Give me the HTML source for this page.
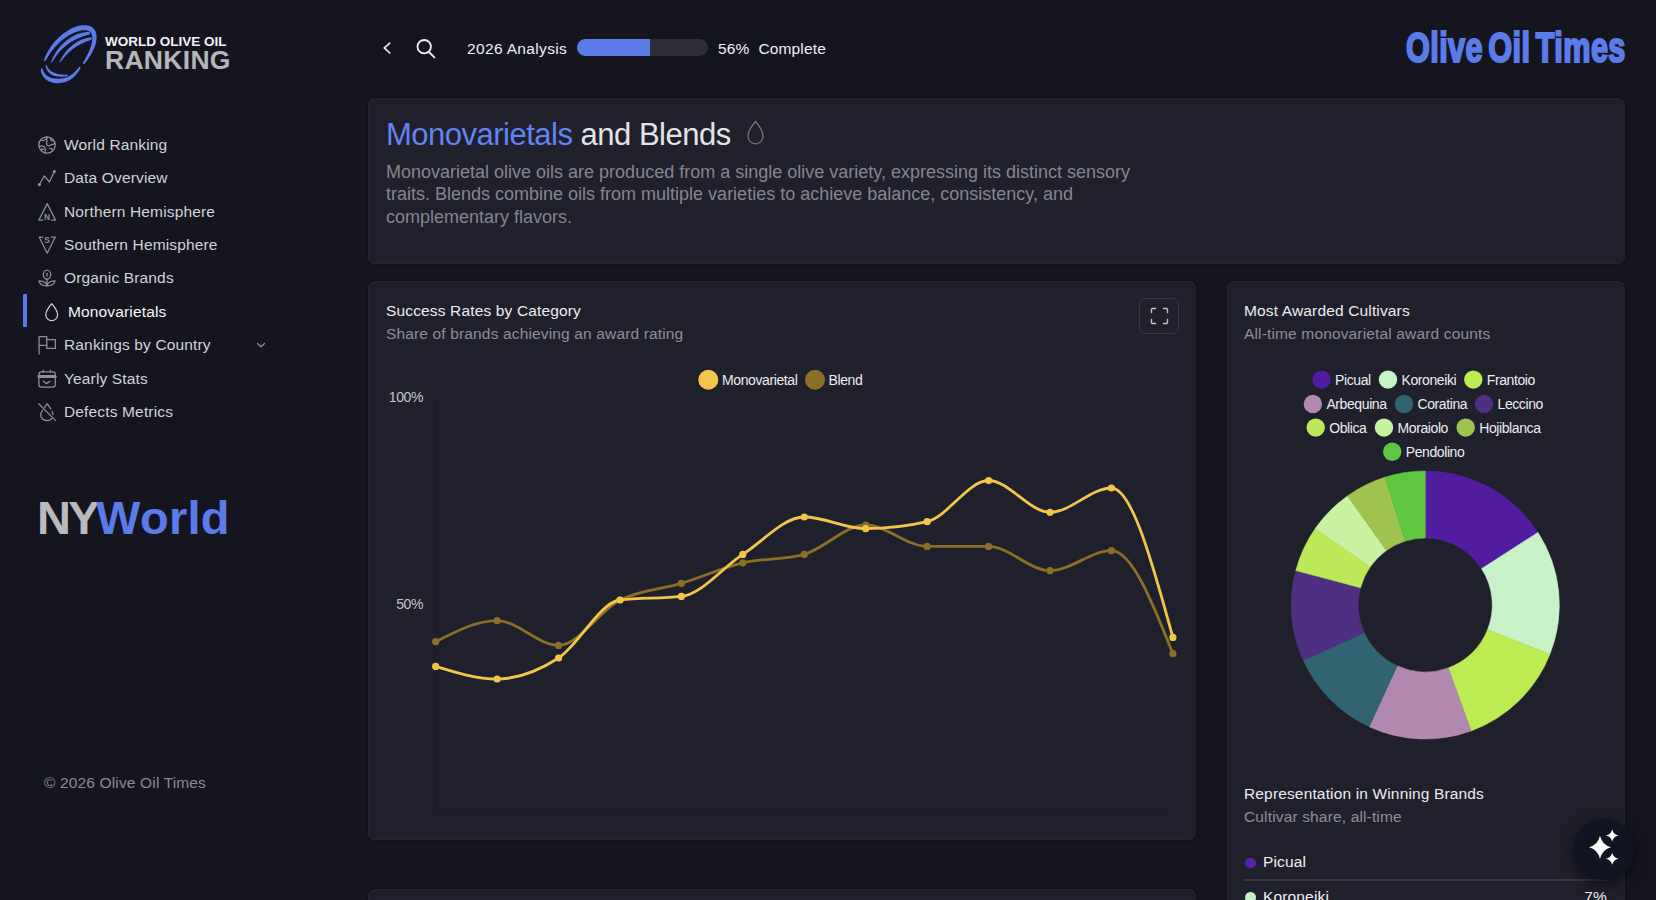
<!DOCTYPE html>
<html><head><meta charset="utf-8">
<style>
*{box-sizing:border-box;margin:0;padding:0}
html,body{width:1656px;height:900px;overflow:hidden;background:#151520;font-family:"Liberation Sans",sans-serif;color:#e6e6ea}
.abs{position:absolute}
.nav{position:absolute;left:0;width:300px;height:20px;font-size:15.5px;color:#d2d2d8;letter-spacing:0.15px}
.nav svg{position:absolute;left:38px;top:0;width:18px;height:18px;overflow:visible}
.nav svg *{fill:none;stroke:#90909a;stroke-width:1.25;stroke-linecap:round;stroke-linejoin:round}
.nav .tx{position:absolute;left:64px;top:0;line-height:18px;white-space:nowrap}
.card{position:absolute;background:#20202c;border-radius:6px;border:1px solid #252531;box-shadow:0 0 0 1px rgba(0,0,0,0.22)}
.t15{font-size:15.5px;line-height:18px;letter-spacing:0.15px;white-space:nowrap;margin-top:1px}
.muted{color:#8f8f99}
</style></head><body>
<!-- SIDEBAR -->
<svg class="abs" style="left:35px;top:20px" width="70" height="70" viewBox="0 0 900 900"><g fill="#5b7be8"><path d="M128.3,530.7 L141.5,512.6 L152.7,493.6 L164.1,474.7 L175.9,455.9 L188.3,437.2 L201.2,418.7 L214.5,400.5 L228.4,382.5 L242.8,364.9 L257.7,347.7 L273.0,330.8 L288.7,314.4 L304.8,298.5 L321.4,283.1 L338.3,268.2 L355.5,253.9 L373.0,240.3 L390.8,227.3 L408.8,214.9 L427.0,203.4 L445.5,192.5 L464.1,182.5 L482.8,173.3 L501.6,165.0 L520.5,157.5 L539.4,150.9 L558.3,145.3 L577.1,140.7 L595.8,136.4 L614.6,132.9 L621.7,132.1 L629.7,131.5 L637.4,131.1 L644.7,131.1 L651.7,131.3 L658.4,131.9 L664.7,132.7 L670.7,133.7 L676.4,135.0 L681.7,136.5 L686.7,138.3 L691.4,140.3 L695.8,142.4 L699.9,144.8 L703.7,147.5 L707.3,150.3 L710.8,153.4 L714.0,156.8 L717.0,160.5 L719.9,164.5 L722.5,168.9 L725.0,173.6 L727.3,178.8 L729.4,184.4 L731.3,190.5 L732.9,197.1 L734.2,204.1 L735.3,211.6 L736.1,219.5 L736.5,228.0 L736.6,237.7 L736.4,247.4 L735.7,257.3 L734.7,267.3 L733.4,277.3 L731.7,287.5 L729.7,297.8 L727.3,308.2 L724.6,318.7 L721.6,329.3 L718.3,340.0 L714.7,350.7 L710.9,361.6 L706.7,372.6 L702.3,383.6 L697.6,394.7 L692.7,405.9 L687.5,417.2 L682.1,428.6 L676.6,440.1 L670.8,451.6 L664.9,463.2 L658.8,474.9 L652.6,486.7 L646.2,498.5 L639.8,510.5 L633.4,522.6 L626.9,534.8 L620.7,547.4 L616.3,561.2 L627.7,568.8 L638.8,559.3 L647.9,548.5 L656.5,537.5 L664.9,526.3 L673.0,515.2 L680.9,503.9 L688.6,492.7 L696.1,481.4 L703.3,470.1 L710.4,458.8 L717.2,447.4 L723.9,436.1 L730.2,424.7 L736.4,413.3 L742.2,401.9 L747.8,390.5 L753.2,379.0 L758.2,367.6 L763.0,356.1 L767.4,344.6 L771.5,333.1 L775.3,321.5 L778.7,309.9 L781.7,298.3 L784.4,286.7 L786.7,275.0 L788.5,263.3 L790.0,251.5 L791.0,239.8 L791.5,228.0 L791.5,217.2 L791.1,206.8 L790.3,196.6 L788.9,186.7 L787.1,177.1 L784.8,167.7 L782.0,158.7 L778.7,150.0 L774.8,141.6 L770.5,133.6 L765.7,125.9 L760.3,118.7 L754.5,111.8 L748.2,105.4 L741.5,99.5 L734.4,94.1 L726.9,89.2 L719.1,84.8 L711.0,80.8 L702.6,77.4 L694.0,74.4 L685.1,71.9 L675.9,69.9 L666.6,68.3 L657.1,67.1 L647.4,66.3 L637.4,65.9 L627.3,65.9 L617.0,66.2 L605.4,67.1 L583.2,70.3 L561.1,74.9 L539.3,81.3 L517.7,88.7 L496.4,97.2 L475.4,106.6 L454.7,117.0 L434.3,128.2 L414.3,140.3 L394.6,153.2 L375.3,166.9 L356.4,181.3 L337.9,196.4 L319.8,212.2 L302.2,228.6 L285.1,245.5 L268.5,263.0 L252.5,281.0 L237.0,299.5 L222.0,318.4 L207.7,337.7 L194.0,357.4 L181.0,377.4 L168.7,397.7 L157.2,418.3 L146.4,439.2 L136.5,460.2 L127.6,481.4 L119.9,502.9 L115.7,525.3Z"/><path d="M215.7,546.7 L228.1,529.3 L239.5,511.6 L250.9,494.1 L262.7,477.0 L274.7,460.1 L287.2,443.6 L300.0,427.5 L313.2,411.8 L326.8,396.5 L340.8,381.6 L355.2,367.2 L370.1,353.2 L385.3,339.7 L401.0,326.7 L417.1,314.2 L433.6,302.2 L450.5,290.7 L467.8,279.8 L485.6,269.5 L503.7,259.7 L522.3,250.6 L541.3,242.0 L560.7,233.9 L580.1,225.2 L599.9,217.0 L620.4,209.6 L641.3,202.7 L662.8,196.4 L684.8,190.6 L707.5,184.0 L702.5,152.0 L678.3,152.6 L654.2,155.5 L630.6,159.6 L607.4,164.5 L584.7,170.2 L562.3,176.8 L540.3,184.1 L519.3,193.4 L498.9,203.6 L479.1,214.4 L459.8,225.9 L441.0,238.0 L422.8,250.8 L405.2,264.1 L388.2,278.1 L371.7,292.5 L355.8,307.6 L340.5,323.1 L325.8,339.1 L311.7,355.6 L298.2,372.5 L285.3,389.9 L273.1,407.7 L261.5,425.9 L250.5,444.5 L240.2,463.4 L230.6,482.7 L221.8,502.3 L214.0,522.4 L208.3,543.3Z"/><path d="M321.1,546.8 L332.4,533.9 L342.6,520.6 L352.8,507.3 L363.3,494.2 L373.9,481.2 L384.9,468.5 L396.0,456.0 L407.5,443.8 L419.3,431.8 L431.3,420.1 L443.6,408.7 L456.2,397.5 L469.1,386.7 L482.3,376.2 L495.8,366.0 L509.6,356.2 L523.7,346.8 L538.1,337.7 L552.7,329.0 L567.7,320.6 L582.9,312.7 L598.5,305.2 L614.2,298.0 L629.8,290.0 L645.7,282.5 L662.1,275.3 L678.8,268.6 L695.8,262.2 L713.2,256.1 L730.9,248.9 L725.1,223.1 L705.5,224.3 L686.3,227.6 L667.3,231.7 L648.7,236.5 L630.3,242.0 L612.3,248.0 L594.5,254.5 L577.6,262.7 L561.1,271.6 L545.0,280.9 L529.4,290.7 L514.1,300.9 L499.2,311.5 L484.7,322.5 L470.7,334.0 L457.0,345.8 L443.8,357.9 L431.0,370.4 L418.6,383.2 L406.6,396.4 L395.1,409.8 L384.1,423.5 L373.4,437.5 L363.3,451.8 L353.6,466.3 L344.5,481.1 L335.8,496.1 L327.8,511.3 L320.4,526.9 L314.9,543.2Z"/><path d="M80.0,622.5 L76.0,635.2 L75.8,647.8 L77.1,660.3 L79.5,672.5 L82.9,684.4 L87.3,696.0 L92.6,707.2 L98.8,718.0 L105.8,728.4 L113.7,738.3 L122.3,747.6 L131.6,756.4 L141.6,764.7 L152.2,772.4 L163.5,779.5 L175.4,786.0 L187.8,791.9 L200.8,797.1 L214.2,801.7 L228.2,805.6 L242.6,808.9 L257.4,811.5 L272.7,812.3 L288.2,812.4 L304.1,811.8 L320.1,810.4 L336.4,808.2 L352.9,805.3 L369.5,801.7 L386.3,797.2 L396.4,794.0 L405.8,790.6 L415.0,786.9 L424.0,782.9 L432.8,778.6 L441.3,774.1 L449.6,769.3 L457.7,764.3 L465.6,759.1 L473.3,753.6 L480.8,747.9 L488.1,742.0 L495.2,735.8 L502.1,729.5 L508.8,723.0 L515.3,716.4 L521.7,709.5 L527.9,702.5 L533.9,695.4 L539.8,688.0 L545.5,680.6 L551.0,672.9 L556.4,665.2 L561.7,657.3 L566.7,649.2 L571.7,641.1 L576.4,632.7 L580.8,624.2 L584.9,615.4 L587.0,605.3 L577.0,598.7 L568.7,604.6 L562.2,611.4 L555.9,618.4 L549.8,625.3 L543.7,632.2 L537.7,638.9 L531.6,645.5 L525.5,652.0 L519.4,658.4 L513.3,664.6 L507.1,670.6 L500.8,676.5 L494.5,682.1 L488.1,687.6 L481.7,693.0 L475.2,698.1 L468.6,703.0 L461.9,707.7 L455.2,712.2 L448.3,716.5 L441.4,720.6 L434.3,724.4 L427.1,728.1 L419.9,731.5 L412.4,734.6 L404.9,737.6 L397.2,740.3 L389.4,742.7 L381.4,744.9 L373.7,746.8 L358.7,749.6 L344.0,751.8 L329.7,753.3 L315.7,754.2 L302.1,754.4 L288.9,754.1 L276.1,753.2 L263.7,751.9 L251.6,750.9 L239.8,749.5 L228.4,747.5 L217.5,745.0 L206.9,741.9 L196.7,738.4 L187.0,734.5 L177.7,730.1 L168.8,725.2 L160.4,719.9 L152.5,714.1 L145.0,708.0 L138.0,701.4 L131.4,694.4 L125.3,686.9 L119.7,679.0 L114.6,670.7 L109.9,661.9 L105.7,652.6 L101.8,642.8 L98.1,632.5 L92.0,621.5Z"/><path d="M138.3,575.7 L137.2,586.8 L138.2,597.6 L140.3,608.1 L143.1,618.3 L146.7,628.2 L151.1,637.8 L156.2,647.1 L161.9,655.9 L168.3,664.4 L175.4,672.5 L183.1,680.2 L191.3,687.4 L200.2,694.2 L209.6,700.5 L219.5,706.4 L230.2,711.4 L241.5,715.3 L253.2,718.8 L265.2,721.7 L277.7,724.1 L290.5,726.1 L303.7,727.5 L317.2,728.5 L331.0,728.9 L345.2,728.8 L359.8,728.2 L374.6,727.1 L389.8,725.3 L405.2,722.9 L420.7,718.6 L419.3,705.4 L403.6,704.3 L388.5,704.1 L373.9,703.7 L359.8,703.0 L346.1,702.0 L332.9,700.6 L320.1,698.9 L307.9,696.8 L296.1,694.3 L284.8,691.5 L274.1,688.3 L263.8,684.8 L254.1,681.0 L244.9,676.8 L236.0,672.9 L227.3,669.0 L219.0,664.7 L211.2,660.1 L203.8,655.2 L196.8,649.9 L190.2,644.2 L183.9,638.1 L178.1,631.6 L172.7,624.8 L167.6,617.5 L162.9,609.8 L158.6,601.6 L154.5,593.0 L150.6,583.9 L145.7,574.3Z"/></g></svg>
<div class="abs" style="left:105px;top:34.5px;font-size:13.5px;font-weight:700;color:#f2f2f4;line-height:13.5px;white-space:nowrap">WORLD OLIVE OIL</div>
<div class="abs" style="left:105px;top:46.5px;font-size:26.5px;font-weight:700;color:#b6b6ba;letter-spacing:0.3px;line-height:26px;white-space:nowrap">RANKING</div>

<div class="nav" style="top:135.6px"><svg viewBox="0 0 18 18"><circle cx="9" cy="9" r="8.2"/><path d="M3.2 4.3 C4.8 5 6 4.6 7 3.6 C7.6 3 8.6 2.6 8.8 1"/><path d="M9 1.2 C8.3 3.5 9.3 5 8.7 7 C8.3 8.5 9 10 11 9.8 C12.5 9.6 13 8.2 14.8 8.4 C16 8.5 16.6 7.5 16.9 6.8"/><path d="M12.5 2 C12 3.5 13.2 4.8 15 4.8"/><path d="M1.4 10.6 C3.3 9.6 5.8 10.2 7 11.8 C8 13.2 6.8 14.6 7.2 16.9"/><path d="M3.6 12.4 C4.2 13.8 5 14.2 5.8 13"/><path d="M11.5 12.5 C12.5 12 14 12.5 14.5 14.2"/></svg><span class="tx">World Ranking</span></div>
<div class="nav" style="top:169.1px"><svg viewBox="0 0 18 18"><path d="M1.4 15.5 L6.4 6.9 L11.4 13 L16.3 2.5"/><circle cx="1.4" cy="15.5" r="1"/><circle cx="16.3" cy="2.5" r="1"/></svg><span class="tx">Data Overview</span></div>
<div class="nav" style="top:202.5px"><svg viewBox="0 0 18 18"><path d="M4.8 17 H0.9 L9.2 0.6 L17.5 17 H13.5"/><text x="9.2" y="17.4" text-anchor="middle" font-size="8.4" font-weight="700" font-family="Liberation Sans, sans-serif" style="fill:#90909a;stroke:none">N</text></svg><span class="tx">Northern Hemisphere</span></div>
<div class="nav" style="top:235.9px"><svg viewBox="0 0 18 18"><path d="M4.8 1 H1.2 L9.2 17.2 L17.3 1 H13.5"/><text x="9.2" y="7" text-anchor="middle" font-size="8.4" font-weight="700" font-family="Liberation Sans, sans-serif" style="fill:#90909a;stroke:none">S</text></svg><span class="tx">Southern Hemisphere</span></div>
<div class="nav" style="top:269.4px"><svg viewBox="0 0 18 18"><ellipse cx="9" cy="5.6" rx="3.7" ry="4.6"/><path d="M9 4.3 V7.2"/><path d="M9 10.2 V16.8"/><path d="M9 16.8 C5 16.8 1.3 15.3 1 11.8 C4.5 11.8 7.5 13.5 9 15.5"/><path d="M9 16.8 C13 16.8 16.7 15.3 17 11.8 C13.5 11.8 10.5 13.5 9 15.5"/></svg><span class="tx">Organic Brands</span></div>
<div class="abs" style="left:23px;top:294px;width:4px;height:33px;background:#5b7be8;border-radius:1px"></div>
<div class="nav" style="top:302.9px;color:#f6f6f8"><svg viewBox="0 0 18 18" style="left:42px"><path style="stroke:#cfcfd6" d="M9.7 0.6 C9.7 0.6 3.8 7.5 3.8 11.7 A5.9 5.9 0 0 0 15.6 11.7 C15.6 7.5 9.7 0.6 9.7 0.6 Z"/></svg><span class="tx" style="left:68px">Monovarietals</span></div>
<div class="nav" style="top:336.3px"><svg viewBox="0 0 18 18"><path d="M1.1 18 V0.6 H8.8 V9.3 H1.1"/><path d="M8.8 3.7 H17.4 V12.4 H8.8 V9.3"/></svg><span class="tx">Rankings by Country</span><svg viewBox="0 0 18 18" style="left:252px"><path d="M5.5 7.5 L9 10.8 L12.5 7.5"/></svg></div>
<div class="nav" style="top:369.8px"><svg viewBox="0 0 18 18"><rect x="0.9" y="1.9" width="16.4" height="15.3" rx="2.6"/><path d="M1 6.5 H17.2" style="stroke-width:3"/><path d="M5.2 0.2 V2 M12.4 0.2 V2"/><path d="M5.2 11.1 L8.3 13.6 L11.9 11.4"/></svg><span class="tx">Yearly Stats</span></div>
<div class="nav" style="top:403.2px"><svg viewBox="0 0 18 18"><path d="M12.8 5.8 C11.5 4 10.3 2.4 9.3 0.7 C8.5 2 7.6 3.2 6.6 4.4"/><path d="M4.6 7.2 C3.6 8.7 2.7 10.4 2.7 12.1 C2.7 15.3 5.5 17.6 8.8 17.6 C11.4 17.6 13.3 16.6 14.3 15"/><path d="M15 11.5 C14.9 10.5 14.6 9.5 14.1 8.5"/><path d="M0.7 0.7 L17.4 17.4"/></svg><span class="tx">Defects Metrics</span></div>

<div class="abs" style="left:37px;top:494px;font-size:47px;font-weight:700;line-height:47px;white-space:nowrap"><span style="color:#bababe;letter-spacing:-2.6px">NY</span><span style="color:#5b7be8;letter-spacing:0.3px;margin-left:-1px">World</span></div>
<div class="abs muted t15" style="left:44px;top:773px;color:#8a8a94">© 2026 Olive Oil Times</div>

<!-- HEADER -->
<svg class="abs" style="left:375px;top:30px" width="70" height="36" viewBox="0 0 70 36">
  <path d="M14.8 13.2 L9.3 17.9 L14.8 23" fill="none" stroke="#f2f2f4" stroke-width="1.7" stroke-linecap="round" stroke-linejoin="round"/>
  <circle cx="49.2" cy="16.7" r="6.7" fill="none" stroke="#f2f2f4" stroke-width="1.8"/>
  <path d="M54.3 22.3 L59.4 27.4" stroke="#f2f2f4" stroke-width="1.9" stroke-linecap="round"/>
</svg>
<div class="abs t15" style="left:467px;top:39px;color:#f0f0f2;letter-spacing:0.35px">2026 Analysis</div>
<div class="abs" style="left:577px;top:39px;width:131px;height:17px;border-radius:9px;background:#2d2e3a;overflow:hidden"><div style="width:73px;height:17px;background:#5b7be8"></div></div>
<div class="abs t15" style="left:718px;top:39px;color:#f0f0f2">56%&nbsp; Complete</div>
<div class="abs" style="left:1406px;top:26px;font-size:42.5px;font-weight:700;color:#5b7be8;line-height:44px;letter-spacing:0.6px;word-spacing:-5px;white-space:nowrap;transform:scaleX(0.72);transform-origin:0 0;-webkit-text-stroke:2.2px #5b7be8">Olive Oil Times</div>

<!-- CARD 1 -->
<div class="card" style="left:368px;top:98px;width:1257px;height:166px"></div>
<div class="abs" style="left:386px;top:118px;font-size:31px;letter-spacing:-0.5px;line-height:34px;white-space:nowrap"><span style="color:#6283f0">Monovarietals</span> <span style="color:#e4e4e8">and Blends</span></div>
<svg class="abs" style="left:744px;top:119px" width="24" height="28" viewBox="0 0 24 28"><path d="M11.5 2.5 C11.5 2.5 4 11 4 17.3 A7.5 7.5 0 0 0 19 17.3 C19 11 11.5 2.5 11.5 2.5 Z" fill="none" stroke="#74747e" stroke-width="1.3"/></svg>
<div class="abs muted" style="left:386px;top:160.7px;font-size:18px;line-height:22.7px;white-space:nowrap;color:#85858f">Monovarietal olive oils are produced from a single olive variety, expressing its distinct sensory<br>traits. Blends combine oils from multiple varieties to achieve balance, consistency, and<br>complementary flavors.</div>

<!-- CARD 2 -->
<div class="card" style="left:368px;top:281px;width:828px;height:559px"></div>
<div class="abs t15" style="left:386px;top:301px;color:#ececf0">Success Rates by Category</div>
<div class="abs t15 muted" style="left:386px;top:324px">Share of brands achieving an award rating</div>
<div class="abs" style="left:1139px;top:298px;width:40px;height:36px;border:1.2px solid #363642;border-radius:6px"></div>
<svg class="abs" style="left:1150px;top:307px" width="19" height="18" viewBox="0 0 19 18"><path d="M1.5 5.5 V2.5 Q1.5 1.5 2.5 1.5 H5.5 M13.5 1.5 H16.5 Q17.5 1.5 17.5 2.5 V5.5 M17.5 12.5 V15.5 Q17.5 16.5 16.5 16.5 H13.5 M5.5 16.5 H2.5 Q1.5 16.5 1.5 15.5 V12.5" fill="none" stroke="#c4c4ca" stroke-width="1.4" stroke-linecap="round"/></svg>
<svg class="abs" style="left:0;top:0" width="1656" height="900" viewBox="0 0 1656 900">
 <g font-family="Liberation Sans, sans-serif" font-size="14" letter-spacing="-0.4">
  <circle cx="708.3" cy="379.7" r="10" fill="#f3c64b"/><text x="722" y="384.8" fill="#ececf0">Monovarietal</text>
  <circle cx="815" cy="379.7" r="10" fill="#8c6f27"/><text x="828.5" y="384.8" fill="#ececf0">Blend</text>
  <text x="423" y="402" fill="#c4c4cc" text-anchor="end">100%</text>
  <text x="423" y="609" fill="#c4c4cc" text-anchor="end">50%</text>
 </g>
</svg>
<svg class="abs" style="left:0;top:0" width="1656" height="900" viewBox="0 0 1656 900">
<line x1="435.5" y1="397" x2="435.5" y2="812" stroke="#1b1b26" stroke-width="1"/>
<line x1="435" y1="811.5" x2="1173" y2="811.5" stroke="#1b1b26" stroke-width="1"/>
<path d="M435.7,641.7C456.2,631.2,476.7,620.7,497.1,620.7C517.6,620.7,538.1,645.4,558.6,645.4C579.0,645.4,599.5,610.4,620.0,600.0C640.5,589.6,660.9,589.5,681.4,583.3C701.9,577.1,722.4,567.6,742.8,562.8C763.3,558.0,783.8,560.0,804.3,554.3C824.8,548.6,845.2,525.0,865.7,525.0C886.2,525.0,906.7,546.4,927.1,546.4C947.6,546.4,968.1,546.4,988.6,546.4C1009.0,546.4,1029.5,570.7,1050.0,570.7C1070.5,570.7,1091.0,550.6,1111.4,550.6C1131.9,550.6,1152.4,602.2,1172.9,653.7" fill="none" stroke="#8c6f27" stroke-width="2.8"/>
<circle cx="435.7" cy="641.7" r="3.6" fill="#8c6f27"/><circle cx="497.1" cy="620.7" r="3.6" fill="#8c6f27"/><circle cx="558.6" cy="645.4" r="3.6" fill="#8c6f27"/><circle cx="620.0" cy="600.0" r="3.6" fill="#8c6f27"/><circle cx="681.4" cy="583.3" r="3.6" fill="#8c6f27"/><circle cx="742.8" cy="562.8" r="3.6" fill="#8c6f27"/><circle cx="804.3" cy="554.3" r="3.6" fill="#8c6f27"/><circle cx="865.7" cy="525.0" r="3.6" fill="#8c6f27"/><circle cx="927.1" cy="546.4" r="3.6" fill="#8c6f27"/><circle cx="988.6" cy="546.4" r="3.6" fill="#8c6f27"/><circle cx="1050.0" cy="570.7" r="3.6" fill="#8c6f27"/><circle cx="1111.4" cy="550.6" r="3.6" fill="#8c6f27"/><circle cx="1172.9" cy="653.7" r="3.6" fill="#8c6f27"/>
<path d="M435.7,666.4C456.2,672.7,476.7,679.0,497.1,679.0C517.6,679.0,538.1,671.2,558.6,658.0C579.0,644.8,599.5,602.4,620.0,600.0C640.5,597.6,660.9,598.8,681.4,596.4C701.9,594.0,722.4,567.6,742.8,554.4C763.3,541.2,783.8,517.0,804.3,517.0C824.8,517.0,845.2,528.7,865.7,528.7C886.2,528.7,906.7,526.4,927.1,521.7C947.6,517.0,968.1,480.5,988.6,480.5C1009.0,480.5,1029.5,512.3,1050.0,512.3C1070.5,512.3,1091.0,488.0,1111.4,488.0C1131.9,488.0,1152.4,562.7,1172.9,637.4" fill="none" stroke="#f3c64b" stroke-width="2.8"/>
<circle cx="435.7" cy="666.4" r="3.6" fill="#f3c64b"/><circle cx="497.1" cy="679.0" r="3.6" fill="#f3c64b"/><circle cx="558.6" cy="658.0" r="3.6" fill="#f3c64b"/><circle cx="620.0" cy="600.0" r="3.6" fill="#f3c64b"/><circle cx="681.4" cy="596.4" r="3.6" fill="#f3c64b"/><circle cx="742.8" cy="554.4" r="3.6" fill="#f3c64b"/><circle cx="804.3" cy="517.0" r="3.6" fill="#f3c64b"/><circle cx="865.7" cy="528.7" r="3.6" fill="#f3c64b"/><circle cx="927.1" cy="521.7" r="3.6" fill="#f3c64b"/><circle cx="988.6" cy="480.5" r="3.6" fill="#f3c64b"/><circle cx="1050.0" cy="512.3" r="3.6" fill="#f3c64b"/><circle cx="1111.4" cy="488.0" r="3.6" fill="#f3c64b"/><circle cx="1172.9" cy="637.4" r="3.6" fill="#f3c64b"/>
</svg>

<!-- CARD 3 -->
<div class="card" style="left:1227px;top:281px;width:398px;height:660px"></div>
<div class="abs t15" style="left:1244px;top:301px;color:#ececf0">Most Awarded Cultivars</div>
<div class="abs t15 muted" style="left:1244px;top:324px">All-time monovarietal award counts</div>
<svg class="abs" style="left:0;top:0" width="1656" height="900" viewBox="0 0 1656 900"><g font-family="Liberation Sans, sans-serif" font-size="14" letter-spacing="-0.4" fill="#ececf0"><circle cx="1321.5" cy="379.6" r="9.2" fill="#521ca0"/><text x="1335.0" y="384.6">Picual</text><circle cx="1388" cy="379.6" r="9.2" fill="#c8f2c8"/><text x="1401.5" y="384.6">Koroneiki</text><circle cx="1473.3" cy="379.6" r="9.2" fill="#bdeb52"/><text x="1486.8" y="384.6">Frantoio</text><circle cx="1312.9" cy="403.9" r="9.2" fill="#b288b0"/><text x="1326.4" y="408.9">Arbequina</text><circle cx="1404" cy="403.9" r="9.2" fill="#2f6470"/><text x="1417.5" y="408.9">Coratina</text><circle cx="1484" cy="403.9" r="9.2" fill="#4e2f82"/><text x="1497.5" y="408.9">Leccino</text><circle cx="1315.7" cy="427.6" r="9.2" fill="#bde857"/><text x="1329.2" y="432.6">Oblica</text><circle cx="1384" cy="427.6" r="9.2" fill="#c9f3a2"/><text x="1397.5" y="432.6">Moraiolo</text><circle cx="1465.7" cy="427.6" r="9.2" fill="#a0c24e"/><text x="1479.2" y="432.6">Hojiblanca</text><circle cx="1392.2" cy="451.8" r="9.2" fill="#5ec73f"/><text x="1405.7" y="456.8">Pendolino</text></g></svg>
<svg class="abs" style="left:0;top:0" width="1656" height="900" viewBox="0 0 1656 900"><path d="M1425.30,471.00A134,134 0 0 1 1537.94,532.41L1481.62,568.71A67,67 0 0 0 1425.30,538.00Z" fill="#521ca0" stroke="#521ca0" stroke-width="0.6" stroke-linejoin="round"/><path d="M1537.94,532.41A134,134 0 0 1 1549.89,654.33L1487.60,629.66A67,67 0 0 0 1481.62,568.71Z" fill="#c8f2c8" stroke="#c8f2c8" stroke-width="0.6" stroke-linejoin="round"/><path d="M1549.89,654.33A134,134 0 0 1 1471.13,730.92L1448.22,667.96A67,67 0 0 0 1487.60,629.66Z" fill="#bdeb52" stroke="#bdeb52" stroke-width="0.6" stroke-linejoin="round"/><path d="M1471.13,730.92A134,134 0 0 1 1369.09,726.64L1397.20,665.82A67,67 0 0 0 1448.22,667.96Z" fill="#b288b0" stroke="#b288b0" stroke-width="0.6" stroke-linejoin="round"/><path d="M1369.09,726.64A134,134 0 0 1 1303.27,660.36L1364.28,632.68A67,67 0 0 0 1397.20,665.82Z" fill="#2f6470" stroke="#2f6470" stroke-width="0.6" stroke-linejoin="round"/><path d="M1303.27,660.36A134,134 0 0 1 1295.81,570.54L1360.55,587.77A67,67 0 0 0 1364.28,632.68Z" fill="#4e2f82" stroke="#4e2f82" stroke-width="0.6" stroke-linejoin="round"/><path d="M1295.81,570.54A134,134 0 0 1 1315.40,528.33L1370.35,566.67A67,67 0 0 0 1360.55,587.77Z" fill="#bde857" stroke="#bde857" stroke-width="0.6" stroke-linejoin="round"/><path d="M1315.40,528.33A134,134 0 0 1 1347.49,495.91L1386.39,550.45A67,67 0 0 0 1370.35,566.67Z" fill="#c9f3a2" stroke="#c9f3a2" stroke-width="0.6" stroke-linejoin="round"/><path d="M1347.49,495.91A134,134 0 0 1 1385.01,477.20L1405.15,541.10A67,67 0 0 0 1386.39,550.45Z" fill="#a0c24e" stroke="#a0c24e" stroke-width="0.6" stroke-linejoin="round"/><path d="M1385.01,477.20A134,134 0 0 1 1425.30,471.00L1425.30,538.00A67,67 0 0 0 1405.15,541.10Z" fill="#5ec73f" stroke="#5ec73f" stroke-width="0.6" stroke-linejoin="round"/></svg>
<div class="abs t15" style="left:1244px;top:784px;color:#ececf0">Representation in Winning Brands</div>
<div class="abs t15 muted" style="left:1244px;top:807px">Cultivar share, all-time</div>
<div class="abs" style="left:1245px;top:857.5px;width:10.5px;height:10.5px;border-radius:50%;background:#5a20b0"></div>
<div class="abs t15" style="left:1263px;top:852.3px;color:#f0f0f2">Picual</div>
<div class="abs" style="left:1244px;top:879px;width:364px;height:2px;background:#373744"></div>
<div class="abs" style="left:1245px;top:892px;width:10.5px;height:10.5px;border-radius:50%;background:#c8f2c8"></div>
<div class="abs t15" style="left:1263px;top:887px;color:#f0f0f2">Koroneiki</div>
<div class="abs t15" style="left:1560px;top:887px;width:47px;text-align:right;color:#f0f0f2">7%</div>

<!-- CARD 4 -->
<div class="card" style="left:368px;top:889px;width:828px;height:100px"></div>

<!-- FAB -->
<div class="abs" style="left:1572.5px;top:818.5px;width:61px;height:61px;border-radius:50%;background:#121421;box-shadow:0 4px 14px rgba(0,0,0,0.55)"></div>
<svg class="abs" style="left:0;top:0" width="1656" height="900" viewBox="0 0 1656 900"><path d="M1600,835.6999999999999 Q1602.20,844.98 1611,847.3 Q1602.20,849.62 1600,858.9 Q1597.80,849.62 1589,847.3 Q1597.80,844.98 1600,835.6999999999999 Z" fill="#fff"/><path d="M1612.2,829.5 Q1613.46,834.30 1618.5,835.5 Q1613.46,836.70 1612.2,841.5 Q1610.94,836.70 1605.9,835.5 Q1610.94,834.30 1612.2,829.5 Z" fill="#fff"/><path d="M1612.2,852.7 Q1613.46,857.50 1618.5,858.7 Q1613.46,859.90 1612.2,864.7 Q1610.94,859.90 1605.9,858.7 Q1610.94,857.50 1612.2,852.7 Z" fill="#fff"/></svg>
</body></html>
